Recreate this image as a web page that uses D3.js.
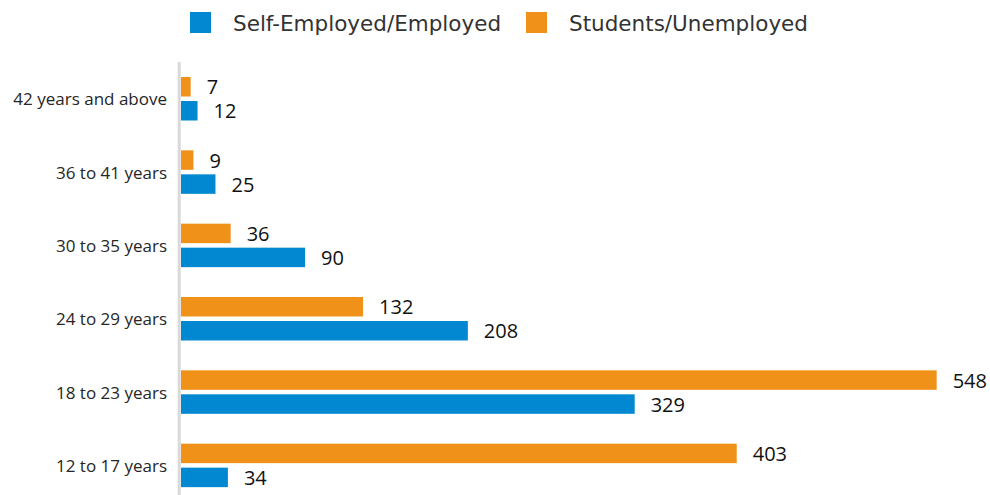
<!DOCTYPE html>
<html>
<head>
<meta charset="utf-8">
<script src="https://cdn.jsdelivr.net/npm/d3@7"></script>
<style>
  html, body { margin: 0; padding: 0; background: #fff; }
  svg { display: block; }
</style>
</head>
<body>
<svg id="chart" width="990" height="495"></svg>
<script>
// ---- data ----
const categories = ["42 years and above", "36 to 41 years", "30 to 35 years", "24 to 29 years", "18 to 23 years", "12 to 17 years"];
const seriesNames = ["Students/Unemployed", "Self-Employed/Employed"];
const studentsUnemployed = [7, 9, 36, 132, 548, 403];
const selfEmployed = [12, 25, 90, 208, 329, 34];
const legendOrder = ["Self-Employed/Employed", "Students/Unemployed"];
const colors = { "Self-Employed/Employed": "#0288d1", "Students/Unemployed": "#f0921a" };

const seriesValues = {
  "Students/Unemployed": studentsUnemployed,
  "Self-Employed/Employed": selfEmployed
};

const svg = d3.select("#chart");

const x = d3.scaleLinear().domain([0, 600]).range([181, 181 + 600 * 1.379]);
const y0 = d3.scaleBand().domain(categories).range([58, 58 + 73.33 * categories.length]);
const y1 = d3.scaleBand().domain(seriesNames).range([19, 62.5]).paddingInner(0.1875).paddingOuter(0);

const rows = categories.map((c, i) => ({
  cat: c,
  vals: seriesNames.map(s => ({ series: s, value: seriesValues[s][i] }))
}));

// axis line
svg.append("line")
  .attr("x1", 179.2).attr("x2", 179.2)
  .attr("y1", 62).attr("y2", 495)
  .attr("stroke", "#d9d9d9").attr("stroke-width", 3);

const g = svg.selectAll("g.row").data(rows).join("g")
  .attr("class", "row")
  .attr("transform", d => `translate(0,${y0(d.cat)})`);

g.selectAll("rect").data(d => d.vals).join("rect")
  .attr("x", x(0))
  .attr("y", d => y1(d.series))
  .attr("width", d => x(d.value) - x(0))
  .attr("height", y1.bandwidth())
  .attr("fill", d => colors[d.series]);

g.selectAll("text.val").data(d => d.vals).join("text")
  .attr("class", "val")
  .attr("x", d => x(d.value) + 16)
  .attr("y", d => y1(d.series) + y1.bandwidth() / 2)
  .attr("dominant-baseline", "central")
  .attr("font-family", "'Open Sans', sans-serif")
  .attr("font-size", 20)
  .attr("fill", "#111")
  .text(d => d.value);

// category labels
g.append("text")
  .attr("x", 167)
  .attr("y", 19 + 43.5 / 2)
  .attr("text-anchor", "end")
  .attr("dominant-baseline", "central")
  .attr("font-family", "'Open Sans', sans-serif")
  .attr("font-size", 17)
  .attr("fill", "#262626")
  .text(d => d.cat);

// legend
const legendX = [190, 526];
const lg = svg.selectAll("g.legend").data(legendOrder).join("g")
  .attr("class", "legend")
  .attr("transform", (d, i) => `translate(${legendX[i]},12)`);
lg.append("rect").attr("width", 21).attr("height", 21).attr("fill", d => colors[d]);
lg.append("text")
  .attr("x", 43).attr("y", 11)
  .attr("dominant-baseline", "central")
  .attr("font-family", "'DejaVu Sans', sans-serif")
  .attr("font-size", 21.5)
  .attr("fill", "#333")
  .text(d => d);
</script>
</body>
</html>
